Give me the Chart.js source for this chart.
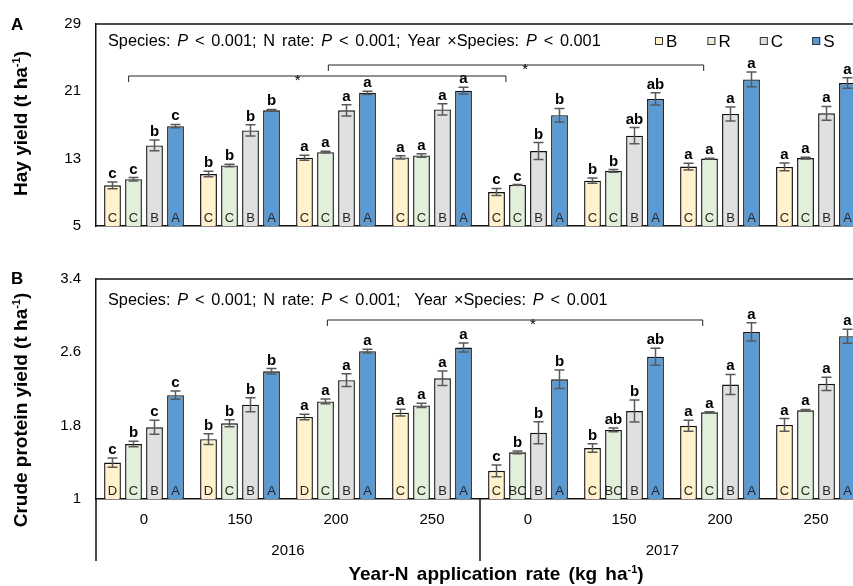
<!DOCTYPE html>
<html>
<head>
<meta charset="utf-8">
<script src="https://cdn.jsdelivr.net/npm/chart.js@4.4.0/dist/chart.umd.min.js"></script>
<style>
  html, body { margin: 0; padding: 0; background: #fff; width: 853px; height: 586px; overflow: hidden; }
  canvas { position: absolute; left: 0; }
</style>
</head>
<body>
<canvas id="hay" width="880" height="250" style="top:0"></canvas>
<canvas id="cp" width="880" height="331" style="top:255px"></canvas>
<script>
// ---- categories ----
const groups = ['0', '150', '200', '250', '0', '150', '200', '250'];
const years = ['2016', '2017'];
const species = ['B', 'R', 'C', 'S'];

// ---- hay yield (t ha-1), means and SE ----
const hayB = [9.84, 11.18, 13.12, 13.15, 9.04, 10.39, 12.06, 12.02];
const hayR = [10.56, 12.20, 13.77, 13.38, 9.88, 11.55, 13.01, 13.07];
const hayC = [14.57, 16.35, 18.75, 18.85, 13.91, 15.73, 18.31, 18.39];
const hayS = [16.86, 18.75, 20.82, 21.08, 18.17, 20.10, 22.42, 21.99];
const hayErrB = [0.40, 0.33, 0.30, 0.20, 0.42, 0.30, 0.40, 0.47];
const hayErrR = [0.20, 0.15, 0.10, 0.20, 0.05, 0.15, 0.05, 0.10];
const hayErrC = [0.64, 0.67, 0.67, 0.67, 1.00, 0.97, 0.84, 0.82];
const hayErrS = [0.20, 0.10, 0.20, 0.40, 0.80, 0.73, 0.87, 0.62];
// letters: N-rate differences within a species (above), species differences (inside)
const haySigB = ['c', 'b', 'a', 'a', 'c', 'b', 'a', 'a'];
const haySigR = ['c', 'b', 'a', 'a', 'c', 'b', 'a', 'a'];
const haySigC = ['b', 'b', 'a', 'a', 'b', 'ab', 'a', 'a'];
const haySigS = ['c', 'b', 'a', 'a', 'b', 'ab', 'a', 'a'];
const hayGrpB = ['C', 'C', 'C', 'C', 'C', 'C', 'C', 'C'];
const hayGrpR = ['C', 'C', 'C', 'C', 'C', 'C', 'C', 'C'];
const hayGrpC = ['B', 'B', 'B', 'B', 'B', 'B', 'B', 'B'];
const hayGrpS = ['A', 'A', 'A', 'A', 'A', 'A', 'A', 'A'];

// ---- crude protein yield (t ha-1), means and SE ----
const cpB = [1.397, 1.653, 1.895, 1.942, 1.307, 1.556, 1.798, 1.808];
const cpR = [1.599, 1.826, 2.065, 2.021, 1.509, 1.754, 1.946, 1.967];
const cpC = [1.783, 2.029, 2.296, 2.317, 1.722, 1.960, 2.249, 2.256];
const cpS = [2.133, 2.393, 2.613, 2.653, 2.306, 2.552, 2.823, 2.776];
const cpErrB = [0.050, 0.058, 0.030, 0.036, 0.065, 0.047, 0.060, 0.070];
const cpErrR = [0.030, 0.038, 0.027, 0.024, 0.016, 0.020, 0.005, 0.010];
const cpErrC = [0.077, 0.076, 0.070, 0.080, 0.120, 0.120, 0.110, 0.072];
const cpErrS = [0.045, 0.030, 0.020, 0.050, 0.100, 0.092, 0.100, 0.076];
const cpSigB = ['c', 'b', 'a', 'a', 'c', 'b', 'a', 'a'];
const cpSigR = ['b', 'b', 'a', 'a', 'b', 'ab', 'a', 'a'];
const cpSigC = ['c', 'b', 'a', 'a', 'b', 'b', 'a', 'a'];
const cpSigS = ['c', 'b', 'a', 'a', 'b', 'ab', 'a', 'a'];
const cpGrpB = ['D', 'D', 'D', 'C', 'C', 'C', 'C', 'C'];
const cpGrpR = ['C', 'C', 'C', 'C', 'BC', 'BC', 'C', 'C'];
const cpGrpC = ['B', 'B', 'B', 'B', 'B', 'B', 'B', 'B'];
const cpGrpS = ['A', 'A', 'A', 'A', 'A', 'A', 'A', 'A'];

// ---- axis ticks ----
const hayTicks = [5, 13, 21, 29];
const cpTicks = [1, 1.8, 2.6, 3.4];

// ---- styling ----
const FONT = '"Liberation Sans", Arial, Helvetica, sans-serif';
const fills = ['#FFF2CC', '#E2EFDA', '#E0E0E0', '#5B9BD5'];
const ERR_COLOR = '#595959';

function buildDatasets(values, errs, sigs, grps) {
  return species.map((s, i) => ({
    label: s,
    data: values[i],
    err: errs[i],
    sig: sigs[i],
    grp: grps[i],
    backgroundColor: fills[i],
    borderColor: '#111',
    borderWidth: 1.4,
    borderSkipped: false,
    categoryPercentage: 0.875,
    barPercentage: 0.8
  }));
}

// draw a run of text pieces with individual fonts / vertical shifts;
// ws = extra width added to every space
function drawRich(ctx, parts, x, y, align, ws) {
  ws = ws || 0;
  const widthOf = p => {
    ctx.font = p.font;
    const spaces = (p.t.match(/ /g) || []).length;
    return ctx.measureText(p.t).width + spaces * ws;
  };
  let total = 0;
  parts.forEach(p => { p.w = widthOf(p); total += p.w; });
  let cx = align === 'center' ? x - total / 2 : x;
  ctx.textAlign = 'left';
  ctx.textBaseline = 'alphabetic';
  parts.forEach(p => {
    ctx.font = p.font;
    let px = cx;
    p.t.split(' ').forEach((word, k, arr) => {
      if (word) ctx.fillText(word, px, y + (p.dy || 0));
      px += ctx.measureText(word).width;
      if (k < arr.length - 1) px += ctx.measureText(' ').width + ws;
    });
    cx += p.w;
  });
}

function statsParts(doubleSpace) {
  const n = '16.3px ' + FONT, it = 'italic 16.3px ' + FONT;
  return [
    { t: 'Species: ', font: n }, { t: 'P', font: it }, { t: ' < 0.001; N rate: ', font: n },
    { t: 'P', font: it }, { t: ' < 0.001;' + (doubleSpace ? '  ' : ' ') + 'Year \u00D7Species: ', font: n },
    { t: 'P', font: it }, { t: ' < 0.001', font: n }
  ];
}

function titleParts(text, size) {
  const b = 'bold ' + size + 'px ' + FONT, s = 'bold ' + Math.round(size * 0.6) + 'px ' + FONT;
  return [{ t: text, font: b }, { t: '-1', font: s, dy: -size * 0.38 }, { t: ')', font: b }];
}

function makeDecor(cfg) {
  return {
    id: 'decor',
    afterDatasetsDraw(chart) {
      const ctx = chart.ctx, area = chart.chartArea;
      const xs = chart.scales.x, ys = chart.scales.y;
      const catX = v => xs.left + (v + 0.5) * (xs.right - xs.left) / groups.length;
      ctx.save();

      // frame top line
      ctx.strokeStyle = '#111';
      ctx.lineWidth = 1.5;
      ctx.beginPath();
      ctx.moveTo(area.left, area.top);
      ctx.lineTo(area.right, area.top);
      ctx.stroke();

      // error bars and letters
      chart.data.datasets.forEach((ds, di) => {
        const meta = chart.getDatasetMeta(di);
        meta.data.forEach((bar, j) => {
          const v = ds.data[j], e = ds.err[j];
          const yt = ys.getPixelForValue(v + e), yb = ys.getPixelForValue(v - e);
          ctx.strokeStyle = ERR_COLOR;
          ctx.lineWidth = 1.5;
          ctx.beginPath();
          ctx.moveTo(bar.x, yt); ctx.lineTo(bar.x, yb);
          ctx.moveTo(bar.x - 5, yt); ctx.lineTo(bar.x + 5, yt);
          ctx.moveTo(bar.x - 5, yb); ctx.lineTo(bar.x + 5, yb);
          ctx.stroke();

          ctx.fillStyle = '#000';
          ctx.font = 'bold 15px ' + FONT;
          ctx.textAlign = 'center';
          ctx.textBaseline = 'alphabetic';
          ctx.fillText(ds.sig[j], bar.x, yt - 4);

          ctx.fillStyle = '#262626';
          ctx.font = '13px ' + FONT;
          ctx.fillText(ds.grp[j], bar.x, area.bottom - 4.5);
        });
      });

      // statistics line
      ctx.fillStyle = '#000';
      drawRich(ctx, statsParts(cfg.doubleSpace), 108, cfg.statsY, 'left', 2.3);

      // comparison brackets
      ctx.strokeStyle = '#222';
      ctx.lineWidth = 1;
      cfg.brackets.forEach(b => {
        const x1 = catX(b.from), x2 = catX(b.to);
        ctx.beginPath();
        ctx.moveTo(x1, b.y + 6); ctx.lineTo(x1, b.y); ctx.lineTo(x2, b.y); ctx.lineTo(x2, b.y + 6);
        ctx.stroke();
        ctx.fillStyle = '#000';
        ctx.font = '15px ' + FONT;
        ctx.textAlign = 'center';
        ctx.textBaseline = 'alphabetic';
        ctx.fillText('*', catX(b.star), b.y + 9);
      });

      // legend
      if (cfg.legend) {
        chart.data.datasets.forEach((ds, i) => {
          const lx = 655 + i * 52.4, ly = 37;
          ctx.fillStyle = ds.backgroundColor;
          ctx.fillRect(lx, ly, 8, 8);
          ctx.strokeStyle = '#333';
          ctx.lineWidth = 1;
          ctx.strokeRect(lx + 0.5, ly + 0.5, 7, 7);
          ctx.fillStyle = '#000';
          ctx.font = '17px ' + FONT;
          ctx.textAlign = 'left';
          ctx.textBaseline = 'alphabetic';
          ctx.fillText(ds.label, lx + 11, 46.5);
        });
      }

      // panel letter
      ctx.fillStyle = '#000';
      ctx.font = 'bold 17px ' + FONT;
      ctx.textAlign = 'left';
      ctx.fillText(cfg.panel, 11, cfg.panelY);

      // rotated y title
      ctx.save();
      ctx.translate(27, cfg.yTitleY);
      ctx.rotate(-Math.PI / 2);
      drawRich(ctx, titleParts(cfg.yTitle, 19), 0, 0, 'center', 0);
      ctx.restore();

      // two-level x axis (year / N rate)
      if (cfg.yearAxis) {
        ctx.strokeStyle = '#111';
        ctx.lineWidth = 1.5;
        [-0.5, 3.5, 7.5].forEach(v => {
          const x = catX(v);
          ctx.beginPath();
          ctx.moveTo(x, area.bottom); ctx.lineTo(x, area.bottom + 62);
          ctx.stroke();
        });
        ctx.fillStyle = '#000';
        ctx.font = '15px ' + FONT;
        ctx.textAlign = 'center';
        ctx.textBaseline = 'middle';
        ctx.fillText(years[0], catX(1.5), area.bottom + 52);
        ctx.fillText(years[1], catX(5.4), area.bottom + 52);
        drawRich(ctx, titleParts('Year-N application rate (kg ha', 19), 496, area.bottom + 81, 'center', 3);
      }
      ctx.restore();
    }
  };
}

function makeChart(id, datasets, ticks, showX, xHeight, decor) {
  return new Chart(document.getElementById(id), {
    type: 'bar',
    data: { labels: groups, datasets: datasets },
    options: {
      responsive: false,
      animation: false,
      devicePixelRatio: 1,
      layout: { padding: { top: 22, right: 16, left: 0, bottom: 0 } },
      plugins: { legend: { display: false }, tooltip: { enabled: false } },
      scales: {
        x: {
          grid: { display: false, drawTicks: false },
          border: { display: true, color: '#111', width: 1.5 },
          ticks: { display: showX, padding: 12, color: '#000', maxRotation: 0, autoSkip: false,
                   font: { family: FONT, size: 15 } },
          afterFit: s => { s.height = xHeight; }
        },
        y: {
          min: ticks[0],
          max: ticks[ticks.length - 1],
          afterBuildTicks: s => { s.ticks = ticks.map(v => ({ value: v })); },
          grid: { display: false, drawTicks: false },
          border: { display: true, color: '#111', width: 1.5 },
          ticks: { padding: 15, color: '#000', font: { family: FONT, size: 15 },
                   callback: v => String(+(+v).toFixed(1)) },
          afterFit: s => { s.width = 96; }
        }
      }
    },
    plugins: [makeDecor(decor)]
  });
}

makeChart('hay',
  buildDatasets([hayB, hayR, hayC, hayS], [hayErrB, hayErrR, hayErrC, hayErrS],
                [haySigB, haySigR, haySigC, haySigS], [hayGrpB, hayGrpR, hayGrpC, hayGrpS]),
  hayTicks, false, 8,
  { panel: 'A', panelY: 29.5, statsY: 45.5, doubleSpace: false, legend: true,
    yTitle: 'Hay yield (t ha', yTitleY: 123.5, yearAxis: false,
    brackets: [{ from: -0.16, to: 3.77, star: 1.6, y: 76 }, { from: 1.92, to: 5.83, star: 3.97, y: 65 }] });

makeChart('cp',
  buildDatasets([cpB, cpR, cpC, cpS], [cpErrB, cpErrR, cpErrC, cpErrS],
                [cpSigB, cpSigR, cpSigC, cpSigS], [cpGrpB, cpGrpR, cpGrpC, cpGrpS]),
  cpTicks, true, 87,
  { panel: 'B', panelY: 29, statsY: 50, doubleSpace: true, legend: false,
    yTitle: 'Crude protein yield (t ha', yTitleY: 155, yearAxis: true,
    brackets: [{ from: 1.91, to: 5.82, star: 4.05, y: 65 }] });
</script>
</body>
</html>
